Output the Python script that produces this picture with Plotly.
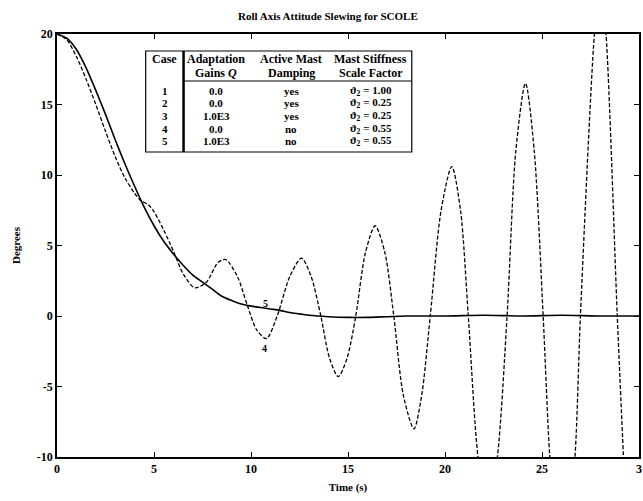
import plotly.graph_objects as go

# ---- data ----
t_case5 = [0, 0.5, 1, 1.5, 2, 2.5, 3, 3.5, 4, 4.5, 5, 5.5, 6, 6.5, 7, 7.5, 8, 8.5, 9, 9.5,
           10, 10.5, 11, 11.5, 12, 12.5, 13, 14, 15, 16, 17, 18, 20, 22, 24, 26, 28, 30]
y_case5 = [20, 19.7, 18.9, 17.6, 16.0, 14.3, 12.5, 10.8, 9.2, 7.7, 6.4, 5.3, 4.4, 3.6, 2.9, 2.4, 1.9, 1.4, 1.1, 0.85,
           0.7, 0.6, 0.5, 0.4, 0.25, 0.15, 0.05, -0.05, -0.1, -0.1, -0.05, 0.0, 0.0, 0.05, 0.0, 0.05, 0.0, 0.0]

t_case4 = [0, 0.5, 1, 1.5, 2, 2.5, 3, 3.5, 4, 4.3, 4.7, 5.0, 5.5, 6.0, 6.5, 7.1, 7.7, 8.3, 8.7, 9.3,
           9.8, 10.3, 10.8, 11.35, 12.0, 12.6, 13.1, 13.6, 14.05, 14.5, 14.95, 15.4, 15.9, 16.4, 16.9,
           17.36, 17.85, 18.4, 18.8, 19.24, 19.8, 20.35, 20.8, 21.2, 21.7, 22.2, 22.7, 23.2, 23.65,
           24.15, 24.6, 25.06, 25.4, 26.0, 26.7, 26.98, 27.7, 28.0, 28.3, 28.88, 29.2, 29.6, 30.0]
y_case4 = [20, 19.6, 18.4, 16.8, 15.0, 13.1, 11.3, 9.8, 8.7, 8.2, 7.9, 7.4, 6.1, 4.6, 3.0, 2.0, 2.4, 3.8, 4.0, 2.8,
           0.8, -1.0, -1.6, 0.0, 2.8, 4.1, 2.8, 0.0, -3.0, -4.3, -3.0, 0.0, 4.5, 6.4, 4.5,
           0.0, -5.6, -8.0, -5.6, 0.0, 7.5, 10.6, 7.5, 0.0, -10.0, -14.0, -10.0, 0.0, 11.7,
           16.5, 11.7, 0.0, -10.0, -20.5, -10.0, 0.0, 20.0, 24.0, 20.0, 0.0, -10.0, -22.0, -28.0]

x_ticks = [0, 5, 10, 15, 20, 25, 30]
x_ticklabels = ["0", "5", "10", "15", "20", "25", "3"]
y_ticks = [-10, -5, 0, 5, 10, 15, 20]

table_header_1 = ["Case", "Adaptation", "Active Mast", "Mast Stiffness"]
table_header_2 = ["", "Gains <i>Q</i>", "Damping", "Scale Factor"]
table_case = ["1", "2", "3", "4", "5"]
table_gain = ["0.0", "0.0", "1.0E3", "0.0", "1.0E3"]
table_damping = ["yes", "yes", "yes", "no", "no"]
table_stiff = ["1.00", "0.25", "0.25", "0.55", "0.55"]

# ---- figure ----
W, H = 643, 501
L, R, T, B = 57, 2, 34, 44
pw, ph = W - L - R, H - T - B

def px(x):
    return (x - L) / pw

def py(y):
    return (H - B - y) / ph

FONT = "Liberation Serif"

fig = go.Figure()
fig.add_trace(go.Scatter(x=t_case5, y=y_case5, mode="lines",
                         line=dict(color="black", width=1.6, shape="spline", smoothing=0.8),
                         showlegend=False))
fig.add_trace(go.Scatter(x=t_case4, y=y_case4, mode="lines",
                         line=dict(color="black", width=1.3, dash="4px,2px", shape="spline", smoothing=0.8),
                         showlegend=False))

ann = []
ann.append(dict(x=px(329), y=py(16), xref="paper", yref="paper", xanchor="center", yanchor="middle",
                text="<b>Roll Axis Attitude Slewing for SCOLE</b>", showarrow=False,
                font=dict(family=FONT, size=11, color="black")))
ann.append(dict(x=10.75, y=0.9, text="<b>5</b>", showarrow=False,
                font=dict(family=FONT, size=10, color="black")))
ann.append(dict(x=10.7, y=-2.3, text="<b>4</b>", showarrow=False,
                font=dict(family=FONT, size=10, color="black")))

# table
tx0, tx1, ty0, ty1 = 146, 413, 51, 152
col_div = 184
col_cx = [165, 217, 292, 372]
hdr_y = [59, 73]
sep_y = 81
row_y = [91, 103.5, 116, 128.5, 141]

shapes = []
shapes.append(dict(type="rect", xref="paper", yref="paper", x0=px(tx0), x1=px(tx1),
                   y0=py(ty1), y1=py(ty0), line=dict(color="black", width=1.2),
                   fillcolor="white", layer="above"))
shapes.append(dict(type="line", xref="paper", yref="paper", x0=px(col_div), x1=px(col_div),
                   y0=py(ty1), y1=py(ty0), line=dict(color="black", width=2.5), layer="above"))
shapes.append(dict(type="line", xref="paper", yref="paper", x0=px(col_div), x1=px(tx1),
                   y0=py(sep_y), y1=py(sep_y), line=dict(color="black", width=1), layer="above"))

hfont = dict(family=FONT, size=12, color="black")
rfont = dict(family=FONT, size=11, color="black")
for i in range(4):
    for j, hdr in enumerate([table_header_1, table_header_2]):
        if hdr[i]:
            ann.append(dict(x=px(col_cx[i]), y=py(hdr_y[j]), xref="paper", yref="paper",
                            xanchor="center", yanchor="middle",
                            text="<b>" + hdr[i] + "</b>", showarrow=False, font=hfont))
for r in range(5):
    vals = [table_case[r], table_gain[r], table_damping[r],
            "ϑ<sub>2</sub> = " + table_stiff[r]]
    for i in range(4):
        ann.append(dict(x=px(col_cx[i]), y=py(row_y[r]), xref="paper", yref="paper",
                        xanchor="center", yanchor="middle",
                        text="<b>" + vals[i] + "</b>", showarrow=False, font=rfont))

axfont = dict(family=FONT, size=12, color="black")
fig.update_layout(
    width=W, height=H,
    margin=dict(l=L, r=R, t=T, b=B),
    paper_bgcolor="white", plot_bgcolor="white",
    annotations=ann, shapes=shapes,
    xaxis=dict(range=[0, 30], tickvals=x_ticks, ticktext=["<b>%s</b>" % s for s in x_ticklabels],
               ticks="inside", ticklen=5, tickcolor="black", showgrid=False, zeroline=False,
               showline=True, linecolor="black", linewidth=1.5, mirror="ticks",
               tickfont=axfont,
               title=dict(text="<b>Time (s)</b>", font=dict(family=FONT, size=11, color="black"), standoff=8)),
    yaxis=dict(range=[-10, 20], tickvals=y_ticks, ticktext=["<b>%d</b>" % v for v in y_ticks],
               ticks="inside", ticklen=5, tickcolor="black", showgrid=False, zeroline=False,
               showline=True, linecolor="black", linewidth=1.5, mirror="ticks",
               tickfont=axfont,
               title=dict(text="<b>Degrees</b>", font=dict(family=FONT, size=11, color="black"), standoff=14)),
)

fig.write_html("out.html")
